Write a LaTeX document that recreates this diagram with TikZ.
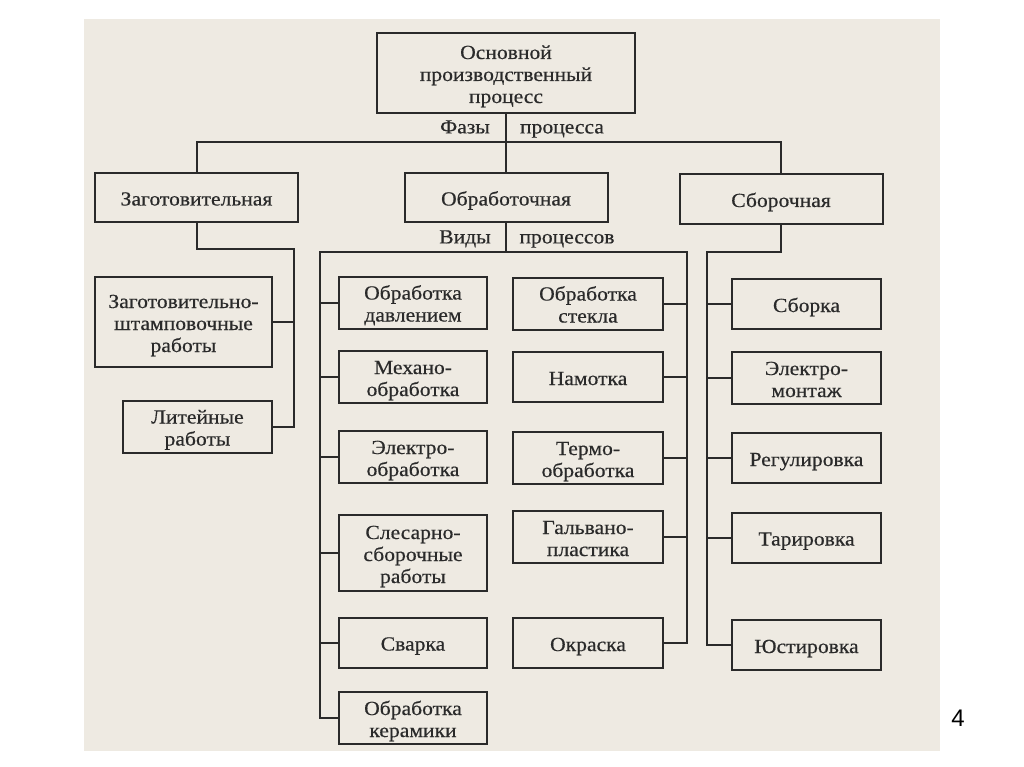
\documentclass[tikz,border=0pt]{standalone}
\usepackage{fontspec}
\setmainfont{Liberation Serif}[FakeStretch=1.08, FakeBold=0.5]
\newfontfamily\pagefont{Liberation Sans}
\usetikzlibrary{positioning,calc}
\definecolor{paper}{RGB}{238,234,226}
\definecolor{ink}{RGB}{42,42,42}
\newcommand{\topstrut}{\rule{0pt}{22pt}}
\newcommand{\botstrut}{\rule[-6pt]{0pt}{6pt}}

\begin{document}
\begin{tikzpicture}[x=1pt, y=-1pt, box/.style={draw=ink, line width=2pt, align=center, text=ink, inner sep=1pt, font=\fontsize{20}{22}\selectfont, execute at begin node=\topstrut, execute at end node=\botstrut}, phase/.style={box, minimum width=203pt, minimum height=49pt}, item/.style={box, minimum width=149pt, minimum height=50pt}, tag/.style={text=ink, font=\fontsize{20}{22}\selectfont, execute at begin node=\strut}, line/.style={draw=ink, line width=2pt}]
        \useasboundingbox (0,0) rectangle (1024,767);
        \fill[white] (0,0) rectangle (1024,767);
        \fill[paper] (84,19) rectangle (940,751);
        \node[box, minimum width=258pt, minimum height=80pt] (osn) at (506,73) {\topstrut Основной\\производственный\\процесс};
        \node[phase] (zag) at (196.5,197.5) {Заготовительная};
        \node[phase] (obr) at (506,197.5) {Обработочная};
        \node[phase, minimum height=50pt] (sbor) at (781,199) {Сборочная};
        \node[tag] (faz) at (465,129) {Фазы};
        \node[tag] (fazp) at (562,129) {процесса};
        \node[tag] (vid) at (465,239) {Виды};
        \node[tag] (vidp) at (567,239) {процессов};
        \node[box, minimum width=177pt, minimum height=90pt] (zsh) at (183.5,322) {\topstrut Заготовительно-\\штамповочные\\работы};
        \node[item] (lit) at (197.5,426.5) {\topstrut Литейные\\работы};
        \node[item, minimum width=148pt] (davl) at (413,302.5) {\topstrut Обработка\\давлением};
        \node[item, minimum width=148pt] (mech) at (413,377) {\topstrut Механо-\\обработка};
        \node[item, minimum width=148pt] (elo) at (413,457) {\topstrut Электро-\\обработка};
        \node[item, minimum width=148pt, minimum height=76pt] (sles) at (413,553) {\topstrut Слесарно-\\сборочные\\работы};
        \node[item, minimum width=148pt] (svar) at (413,642.5) {Сварка};
        \node[item, minimum width=148pt] (ker) at (413,718) {\topstrut Обработка\\керамики};
        \node[item, minimum width=150pt] (stek) at (588,303.5) {\topstrut Обработка\\стекла};
        \node[item, minimum width=150pt] (nam) at (588,377) {Намотка};
        \node[item, minimum width=150pt] (term) at (588,458) {\topstrut Термо-\\обработка};
        \node[item, minimum width=150pt] (galv) at (588,537) {\topstrut Гальвано-\\пластика};
        \node[item, minimum width=150pt] (okr) at (588,643) {Окраска};
        \node[item] (sbk) at (806.5,304) {Сборка};
        \node[item] (emon) at (806.5,378) {\topstrut Электро-\\монтаж};
        \node[item] (reg) at (806.5,458) {Регулировка};
        \node[item] (tar) at (806.5,537.5) {Тарировка};
        \node[item] (yust) at (806.5,645) {Юстировка};
        \node[text=black, font=\pagefont\fontsize{24}{24}\selectfont] (pg) at (958,718) {4};
        \coordinate (fz) at (506,142);
        \coordinate (jz) at (294,249);
        \coordinate (jv) at (506,252);
        \coordinate (tl) at (320,252);
        \coordinate (tr) at (687,252);
        \coordinate (js) at (707,252);
        \draw[line] (osn) -- (obr);
        \draw[line] (zag.north) |- (fz) -| (sbor.north);
        \draw[line] (zag.south) |- (jz) |- (lit.east);
        \draw[line] (zsh.east) -- (zsh.east -| jz);
        \draw[line] (obr) -- (jv);
        \draw[line] (ker.west) -| (tl) -- (tr) |- (okr.east);
        \draw[line] (sbor.south) |- (js) |- (yust.west);
        \foreach \n in {davl,mech,elo,sles,svar}
            \draw[line] (\n.west) -- (\n.west -| tl);
        \foreach \n in {stek,nam,term,galv}
            \draw[line] (\n.east) -- (\n.east -| tr);
        \foreach \n in {sbk,emon,reg,tar}
            \draw[line] (\n.west) -- (\n.west -| js);
    \end{tikzpicture}
\end{document}
